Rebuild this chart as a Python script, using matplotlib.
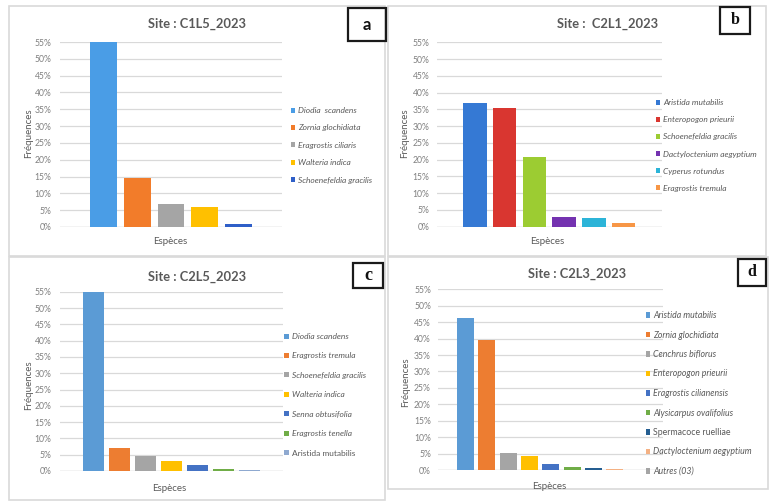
import matplotlib
matplotlib.use("Agg")
import matplotlib.pyplot as plt
from matplotlib.patches import Rectangle
from matplotlib.ticker import FuncFormatter

plt.rcParams['font.family'] = ['Lato', 'DejaVu Sans']

# ---- data -------------------------------------------------------------
title_a = "Site : C1L5_2023"
species_a = ["Diodia  scandens", "Zornia glochidiata", "Eragrostis ciliaris",
             "Walteria indica", "Schoenefeldia gracilis"]
freq_a = [55.0, 14.6, 6.7, 5.8, 0.8]
colors_a = ["#4a9de6", "#f27c2a", "#a5a5a5", "#ffc000", "#2f5fc8"]
italic_a = [True, True, True, True, True]

title_b = "Site :  C2L1_2023"
species_b = ["Aristida mutabilis", "Enteropogon prieurii", "Schoenefeldia gracilis",
             "Dactyloctenium aegyptium", "Cyperus rotundus", "Eragrostis tremula"]
freq_b = [36.8, 35.4, 20.9, 3.0, 2.5, 1.0]
colors_b = ["#3579d4", "#d93630", "#9ccc32", "#7432b0", "#2cb4d8", "#f79646"]
italic_b = [True, True, True, True, True, True]

title_c = "Site : C2L5_2023"
species_c = ["Diodia scandens", "Eragrostis tremula", "Schoenefeldia gracilis",
             "Walteria indica", "Senna obtusifolia", "Eragrostis tenella",
             "Aristida mutabilis"]
freq_c = [55.0, 7.2, 4.5, 3.2, 1.8, 0.5, 0.4]
colors_c = ["#5b9bd5", "#ed7d31", "#a5a5a5", "#ffc000", "#4472c4", "#70ad47", "#8fa9d0"]
italic_c = [True, True, True, True, True, True, False]

title_d = "Site : C2L3_2023"
species_d = ["Aristida mutabilis", "Zornia glochidiata", "Cenchrus biflorus",
             "Enteropogon prieurii", "Eragrostis cilianensis", "Alysicarpus ovalifolius",
             "Spermacoce ruelliae", "Dactyloctenium aegyptium", "Autres (03)"]
freq_d = [46.2, 39.6, 5.3, 4.3, 1.7, 0.9, 0.7, 0.2, 0.15]
colors_d = ["#5b9bd5", "#ed7d31", "#a5a5a5", "#ffc000", "#4472c4", "#70ad47",
            "#255e91", "#f4b183", "#a5a5a5"]
italic_d = [True, True, True, True, True, True, False, True, True]

y_ticks = [0, 5, 10, 15, 20, 25, 30, 35, 40, 45, 50, 55]
x_label = "Espèces"
y_label = "Fréquences"
panel_letters = ["a", "b", "c", "d"]

# ---- layout helpers ---------------------------------------------------
W, H = 774, 501
fig = plt.figure(figsize=(W / 100, H / 100), dpi=100)
fig.patch.set_facecolor("white")

TXT = "#595959"
GRID = "#d9d9d9"


def fx(x):
    return x / W


def fy(y):
    return 1 - y / H


def frame(x0, y0, x1, y1, color, lw):
    fig.add_artist(Rectangle((fx(x0), fy(y1)), fx(x1) - fx(x0), fy(y0) - fy(y1),
                             transform=fig.transFigure, fill=False,
                             edgecolor=color, linewidth=lw))


def panel(box, plot, title, title_xy, species, freq, colors, italic,
          legend_xy, legend_fs, legend_sp, xlabel_xy, ylabel_xy, tick_pad):
    frame(*box, GRID, 1.2)
    x0, y0, x1, y1 = plot
    ax = fig.add_axes([fx(x0), fy(y1), fx(x1) - fx(x0), fy(y0) - fy(y1)])
    n = len(freq)
    pad = 1.28
    for i, (v, c, name) in enumerate(zip(freq, colors, species)):
        ax.bar(i, v, width=0.79, color=c, label=name, zorder=3)
    ax.set_xlim(-pad, n - 1 + pad)
    ax.set_ylim(0, 55)
    ax.set_yticks(y_ticks)
    ax.yaxis.set_major_formatter(FuncFormatter(lambda v, p: f"{v:.0f}%"))
    ax.set_xticks([])
    ax.grid(axis="y", color=GRID, linewidth=0.9, zorder=0)
    for s in ax.spines.values():
        s.set_visible(False)
    ax.axhline(0, color=GRID, linewidth=1.0, zorder=2)
    ax.tick_params(axis="y", length=0, pad=tick_pad, labelsize=6.2, labelcolor="#808080")
    ax.set_facecolor("none")

    leg = ax.legend(loc="upper left", bbox_to_anchor=(fx(legend_xy[0]), fy(legend_xy[1])),
                    bbox_transform=fig.transFigure, frameon=False, fontsize=legend_fs,
                    handlelength=0.55, handleheight=0.55, handletextpad=0.35,
                    labelspacing=legend_sp, borderpad=0, borderaxespad=0)
    for t, it in zip(leg.get_texts(), italic):
        t.set_color(TXT)
        t.set_fontstyle("italic" if it else "normal")

    fig.text(fx(title_xy[0]), fy(title_xy[1]), title, ha="center", va="center",
             fontsize=9.3, fontweight="bold", color=TXT)
    fig.text(fx(xlabel_xy[0]), fy(xlabel_xy[1]), x_label, ha="center", va="center",
             fontsize=7, color=TXT)
    fig.text(fx(ylabel_xy[0]), fy(ylabel_xy[1]), y_label, ha="center", va="center",
             fontsize=7, color=TXT, rotation=90)
    return ax


panel((9, 6, 385, 256), (60, 42, 282, 227), title_a, (196.7, 24),
      species_a, freq_a, colors_a, italic_a,
      (290.5, 107), 6.0, 1.25, (170, 241.7), (29, 133), 6.0)
panel((388, 6, 766, 256), (436.7, 42.3, 661.7, 226.7), title_b, (607.7, 24),
      species_b, freq_b, colors_b, italic_b,
      (655.5, 99), 6.0, 1.22, (547, 242), (405, 133), 5.3)
panel((9, 257, 385, 500), (60, 291.7, 282.7, 471), title_c, (196.7, 276.7),
      species_c, freq_c, colors_c, italic_c,
      (284, 333), 6.0, 1.49, (169, 488.3), (29, 385), 6.0)
panel((388, 257, 768, 489), (438.3, 289.3, 663.3, 470), title_d, (576.7, 274),
      species_d, freq_d, colors_d, italic_d,
      (645.5, 311), 6.3, 1.2, (549.3, 486.7), (405.7, 381.7), 5.3)

# ---- panel letters in boxes --------------------------------------------
letter_boxes = [(347.5, 8.3, 385.5, 41), (720, 6.7, 750, 33.5),
                (353.3, 262.7, 383.3, 287.7), (738.3, 259.3, 765.7, 285.7)]
letter_fonts = [(["Lato", "DejaVu Sans"], 12), (["Liberation Serif"], 11.5),
                (["Liberation Serif"], 13), (["Liberation Serif"], 11.5)]
for letter, (bx0, by0, bx1, by1), (fam, fs) in zip(panel_letters, letter_boxes, letter_fonts):
    frame(bx0, by0, bx1, by1, "#1a1a1a", 1.6)
    fig.text(fx((bx0 + bx1) / 2), fy((by0 + by1) / 2), letter, ha="center", va="center",
             fontsize=fs, fontweight="bold", color="#111111", family=fam)

fig.savefig("out.png", dpi=100)
